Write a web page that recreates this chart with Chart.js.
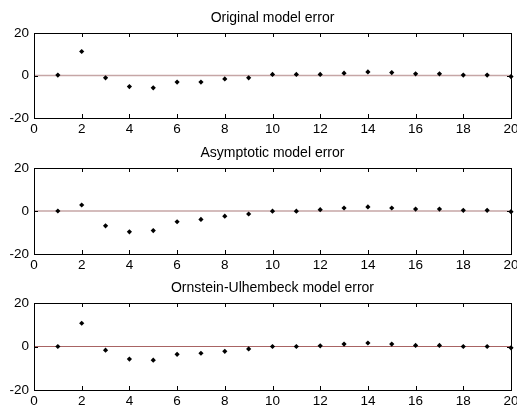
<!DOCTYPE html>
<html>
<head>
<meta charset="utf-8">
<script src="https://cdn.jsdelivr.net/npm/chart.js@4/dist/chart.umd.min.js"></script>
<style>
  html, body { margin: 0; padding: 0; background: #fff; }
  #wrap { position: relative; width: 517px; height: 416px; overflow: hidden; }
  .pane { position: absolute; left: 0; width: 517px; }
  canvas { display: block; }
</style>
</head>
<body>
<div id="wrap">
  <div class="pane" style="top:0px;height:135px"><canvas id="c1" width="517" height="135"></canvas></div>
  <div class="pane" style="top:135px;height:135px"><canvas id="c2" width="517" height="135"></canvas></div>
  <div class="pane" style="top:270px;height:146px"><canvas id="c3" width="517" height="146"></canvas></div>
</div>
<script>
// ---- data ----
const xValues = [1, 2, 3, 4, 5, 6, 7, 8, 9, 10, 11, 12, 13, 14, 15, 16, 17, 18, 19, 20];
const originalErr   = [0.2, 11.3, -1.1, -5.2, -5.8, -3.1, -3.1, -1.6, -1.1, 0.5, 0.5, 0.5, 1.1, 1.7, 1.4, 0.8, 0.8, 0.2, 0.2, -0.5];
const asymptoticErr = [0.0, 2.8, -6.9, -9.7, -9.1, -5.0, -3.9, -2.4, -1.4, -0.1, -0.1, 0.6, 1.4, 1.9, 1.4, 0.9, 0.9, 0.3, 0.3, -0.3];
const ouErr         = [0.0, 10.7, -1.7, -5.8, -6.3, -3.6, -3.1, -2.2, -1.1, 0.0, 0.0, 0.3, 1.1, 1.6, 1.1, 0.5, 0.5, 0.0, 0.0, -0.6];
const zeroLineX = [0, 20];
const zeroLineY = [0, 0];
const titles = ['Original model error', 'Asymptotic model error', 'Ornstein-Ulhembeck model error'];
const xTicks = [0, 2, 4, 6, 8, 10, 12, 14, 16, 18, 20];
const yTicks = [-20, 0, 20];

const FONT = '"Liberation Sans", Arial, Helvetica, sans-serif';

// axes title centred over the plot box (MATLAB style)
const axesTitlePlugin = {
  id: 'axesTitle',
  afterDraw(chart, args, opts) {
    const { ctx, chartArea: a } = chart;
    ctx.save();
    ctx.fillStyle = '#000';
    ctx.font = '14px ' + FONT;
    ctx.textAlign = 'center';
    ctx.textBaseline = 'alphabetic';
    ctx.fillText(opts.text, (a.left + a.right) / 2, a.top - 11);
    ctx.restore();
  }
};

const boxPlugin = {
  id: 'matlabBox',
  afterDraw(chart) {
    const { ctx, chartArea: a, scales } = chart;
    ctx.save();
    ctx.strokeStyle = '#000';
    ctx.lineWidth = 1;
    ctx.strokeRect(Math.round(a.left) + 0.5, Math.round(a.top) + 0.5,
                   Math.round(a.right - a.left), Math.round(a.bottom - a.top));
    const tl = 4;
    ctx.beginPath();
    xTicks.forEach(v => {
      if (v === xTicks[0] || v === xTicks[xTicks.length - 1]) return;
      const px = Math.round(scales.x.getPixelForValue(v)) + 0.5;
      ctx.moveTo(px, a.top); ctx.lineTo(px, a.top + tl);
      ctx.moveTo(px, a.bottom); ctx.lineTo(px, a.bottom - tl);
    });
    yTicks.forEach(v => {
      if (v === yTicks[0] || v === yTicks[yTicks.length - 1]) return;
      const py = Math.round(scales.y.getPixelForValue(v)) + 0.5;
      ctx.moveTo(a.left, py); ctx.lineTo(a.left + tl, py);
      ctx.moveTo(a.right, py); ctx.lineTo(a.right - tl, py);
    });
    ctx.stroke();
    ctx.restore();
  }
};

function makeChart(id, title, values, xAxisHeight, lineColor, lineWidth) {
  const pts = xValues.map((x, i) => ({ x: x, y: values[i] }));
  const zero = zeroLineX.map((x, i) => ({ x: x, y: zeroLineY[i] }));
  return new Chart(document.getElementById(id), {
    type: 'scatter',
    data: {
      datasets: [
        {
          type: 'line',
          data: zero,
          borderColor: lineColor,
          borderWidth: lineWidth,
          pointRadius: 0,
          fill: false,
          order: 2
        },
        {
          data: pts,
          pointStyle: 'rectRot',
          pointRadius: 2.6,
          pointBackgroundColor: '#000',
          pointBorderColor: '#000',
          pointBorderWidth: 0,
          clip: false,
          order: 1
        }
      ]
    },
    options: {
      responsive: false,
      animation: false,
      devicePixelRatio: 1,
      layout: { padding: { left: 0, right: 6, top: 33, bottom: 0 } },
      plugins: {
        legend: { display: false },
        tooltip: { enabled: false },
        title: { display: false },
        axesTitle: { text: title }
      },
      scales: {
        x: {
          type: 'linear',
          min: 0, max: 20,
          afterBuildTicks(scale) { scale.ticks = xTicks.map(v => ({ value: v })); },
          afterFit(scale) { scale.height = xAxisHeight; scale.paddingLeft = 0; scale.paddingRight = 0; },
          grid: { display: false, drawTicks: false },
          border: { display: false },
          ticks: { color: '#000', padding: 3, maxRotation: 0, autoSkip: false,
                   font: { family: FONT, size: 13.5 } }
        },
        y: {
          type: 'linear',
          min: -20, max: 20,
          afterBuildTicks(scale) { scale.ticks = yTicks.map(v => ({ value: v })); },
          afterFit(scale) { scale.width = 34; scale.paddingTop = 0; scale.paddingBottom = 0; },
          grid: { display: false, drawTicks: false },
          border: { display: false },
          ticks: { color: '#000', padding: 5, font: { family: FONT, size: 13.5 } }
        }
      }
    },
    plugins: [boxPlugin, axesTitlePlugin]
  });
}

makeChart('c1', titles[0], originalErr, 17, '#c6a6a6', 1.6);
makeChart('c2', titles[1], asymptoticErr, 16, '#c6a6a6', 1.6);
makeChart('c3', titles[2], ouErr, 26, '#a86464', 1.2);
</script>
</body>
</html>
